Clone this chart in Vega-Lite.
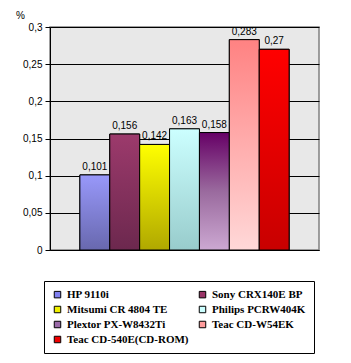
{
  "$schema": "https://vega.github.io/schema/vega-lite/v6.json",
  "width": 269,
  "height": 223,
  "autosize": {"type": "none"},
  "padding": {"left": 50, "top": 27, "right": 32, "bottom": 113},
  "background": "white",
  "config": {
    "locale": {"number": {"decimal": ",", "thousands": " ", "grouping": [3], "currency": ["", ""]}},
    "view": {"fill": "#e8e8e8", "stroke": "#808080", "strokeWidth": 1.5},
    "font": "Liberation Sans"
  },
  "data": {
    "values": [
      {"drive": "HP 9110i", "value": 0.101},
      {"drive": "Sony CRX140E BP", "value": 0.156},
      {"drive": "Mitsumi CR 4804 TE", "value": 0.142},
      {"drive": "Philips PCRW404K", "value": 0.163},
      {"drive": "Plextor PX-W8432Ti", "value": 0.158},
      {"drive": "Teac CD-W54EK", "value": 0.283},
      {"drive": "Teac CD-540E(CD-ROM)", "value": 0.27}
    ]
  },
  "encoding": {
    "x": {
      "field": "drive", "type": "nominal",
      "scale": {
        "domain": ["HP 9110i", "Sony CRX140E BP", "Mitsumi CR 4804 TE", "Philips PCRW404K", "Plextor PX-W8432Ti", "Teac CD-W54EK", "Teac CD-540E(CD-ROM)"],
        "paddingInner": 0, "paddingOuter": 1.2
      },
      "axis": {"title": null, "labels": false, "ticks": false, "domainColor": "black", "domainWidth": 1}
    },
    "y": {
      "field": "value", "type": "quantitative",
      "scale": {"domain": [0, 0.3], "nice": false},
      "axis": {
        "title": "%", "titleAngle": 0, "titleX": -30, "titleY": -12, "titleAlign": "center", "titleBaseline": "middle",
        "titleFont": "Liberation Sans", "titleFontSize": 10, "titleFontWeight": "normal", "titleColor": "black",
        "values": [0, 0.05, 0.1, 0.15, 0.2, 0.25, 0.3],
        "format": ".2~f",
        "labelFont": "Liberation Sans", "labelFontSize": 10, "labelColor": "black", "labelPadding": 3,
        "tickSize": 5, "tickColor": "black", "domainColor": "black", "domainWidth": 1,
        "grid": true, "gridColor": "black", "gridWidth": 1, "gridOpacity": 1
      }
    }
  },
  "layer": [
    {
      "mark": {"type": "bar", "stroke": "black", "strokeWidth": 1},
      "encoding": {
        "color": {
          "field": "drive", "type": "nominal",
          "scale": {
            "domain": ["HP 9110i", "Sony CRX140E BP", "Mitsumi CR 4804 TE", "Philips PCRW404K", "Plextor PX-W8432Ti", "Teac CD-W54EK", "Teac CD-540E(CD-ROM)"],
            "range": ["#8080f0", "#993366", "#f0f000", "#ccffff", "#9a6aa8", "#ff9c9c", "#ee0000"]
          },
          "legend": {
            "title": null, "orient": "none", "legendX": -6, "legendY": 254,
            "columns": 2, "direction": "horizontal", "columnPadding": 8, "rowPadding": 3,
            "padding": 8, "strokeColor": "black", "fillColor": "white",
            "symbolType": "square", "symbolSize": 42, "symbolStrokeColor": "black", "symbolStrokeWidth": 1,
            "labelFont": "Liberation Serif", "labelFontWeight": "bold", "labelFontSize": 11, "labelColor": "black",
            "labelOffset": 4, "labelLimit": 200
          }
        }
      }
    },
    {
      "transform": [{"filter": "datum.drive == 'HP 9110i'"}],
      "mark": {"type": "bar", "stroke": "black", "strokeWidth": 1,
        "fill": {"gradient": "linear", "x1": 0, "y1": 0, "x2": 0, "y2": 1, "stops": [{"offset": 0, "color": "#9898fa"}, {"offset": 1, "color": "#6868ae"}]}}
    },
    {
      "transform": [{"filter": "datum.drive == 'Sony CRX140E BP'"}],
      "mark": {"type": "bar", "stroke": "black", "strokeWidth": 1,
        "fill": {"gradient": "linear", "x1": 0, "y1": 0, "x2": 0, "y2": 1, "stops": [{"offset": 0, "color": "#9c3a6c"}, {"offset": 1, "color": "#6c284e"}]}}
    },
    {
      "transform": [{"filter": "datum.drive == 'Mitsumi CR 4804 TE'"}],
      "mark": {"type": "bar", "stroke": "black", "strokeWidth": 1,
        "fill": {"gradient": "linear", "x1": 0, "y1": 0, "x2": 0, "y2": 1, "stops": [{"offset": 0, "color": "#ffff00"}, {"offset": 1, "color": "#b0a800"}]}}
    },
    {
      "transform": [{"filter": "datum.drive == 'Philips PCRW404K'"}],
      "mark": {"type": "bar", "stroke": "black", "strokeWidth": 1,
        "fill": {"gradient": "linear", "x1": 0, "y1": 0, "x2": 0, "y2": 1, "stops": [{"offset": 0, "color": "#ccffff"}, {"offset": 1, "color": "#98cccc"}]}}
    },
    {
      "transform": [{"filter": "datum.drive == 'Plextor PX-W8432Ti'"}],
      "mark": {"type": "bar", "stroke": "black", "strokeWidth": 1,
        "fill": {"gradient": "linear", "x1": 0, "y1": 0, "x2": 0, "y2": 1, "stops": [{"offset": 0, "color": "#660066"}, {"offset": 0.5, "color": "#9a6a9e"}, {"offset": 1, "color": "#cca8d2"}]}}
    },
    {
      "transform": [{"filter": "datum.drive == 'Teac CD-W54EK'"}],
      "mark": {"type": "bar", "stroke": "black", "strokeWidth": 1,
        "fill": {"gradient": "linear", "x1": 0, "y1": 0, "x2": 0, "y2": 1, "stops": [{"offset": 0, "color": "#ff8282"}, {"offset": 1, "color": "#ffd8d8"}]}}
    },
    {
      "transform": [{"filter": "datum.drive == 'Teac CD-540E(CD-ROM)'"}],
      "mark": {"type": "bar", "stroke": "black", "strokeWidth": 1,
        "fill": {"gradient": "linear", "x1": 0, "y1": 0, "x2": 0, "y2": 1, "stops": [{"offset": 0, "color": "#ff0000"}, {"offset": 1, "color": "#c80000"}]}}
    },
    {
      "mark": {"type": "text", "baseline": "bottom", "dy": -3, "font": "Liberation Sans", "fontSize": 10, "color": "black"},
      "encoding": {
        "text": {"field": "value", "type": "quantitative", "format": ".3~f"}
      }
    }
  ]
}
